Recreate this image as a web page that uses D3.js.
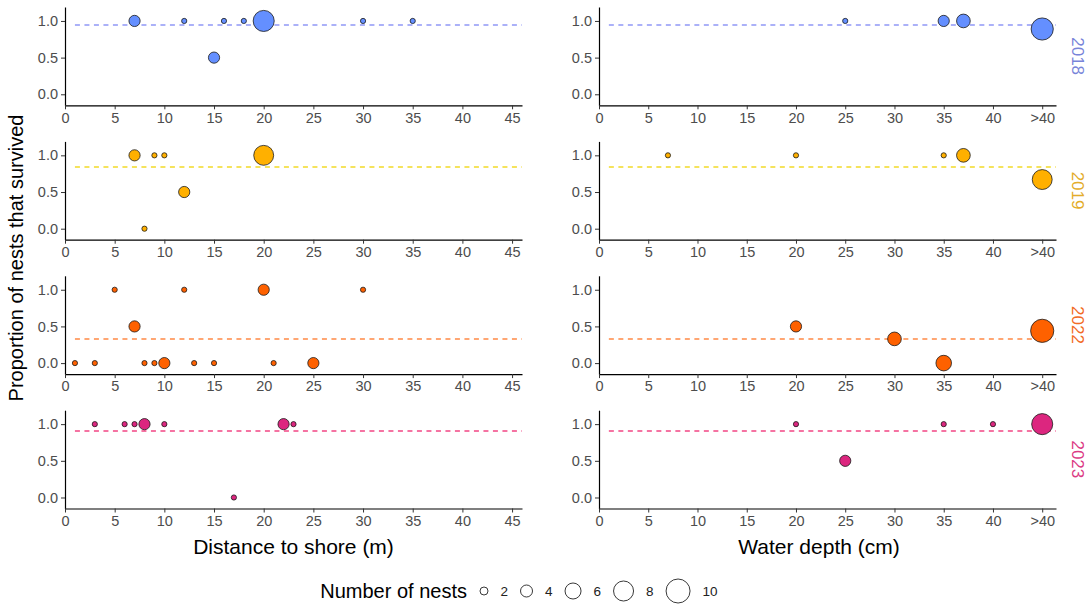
<!DOCTYPE html>
<html><head><meta charset="utf-8">
<script src="https://cdn.jsdelivr.net/npm/d3@7"></script>
<style>
body{margin:0;background:#fff}
svg{display:block}
text{font-family:"Liberation Sans",Arial,Helvetica,sans-serif}
</style>
</head><body>
<svg id="chart" width="1086" height="604"></svg>
<script>
const years = ["2018", "2019", "2022", "2023"];
const pointColors = ["#648FFF", "#FFB000", "#FE6100", "#DC267F"];
const lineColors = ["#7C86F4", "#F0D400", "#FF7424", "#F0246E"];
const stripColors = ["#7884D9", "#E3AC2A", "#F26A24", "#DB3A84"];
const meanSurvival = [0.94, 0.84, 0.33, 0.90];

// each entry: [position, proportion survived, number of nests]
const dist2018 = [[7,1,2],[12,1,1],[15,0.5,2],[16,1,1],[18,1,1],[20,1,8],[30,1,1],[35,1,1]];
const dist2019 = [[7,1,2],[8,0,1],[9,1,1],[10,1,1],[12,0.5,2],[20,1,7]];
const dist2022 = [[1,0,1],[3,0,1],[5,1,1],[7,0.5,2],[8,0,1],[9,0,1],[10,0,2],[12,1,1],[13,0,1],[15,0,1],[20,1,2],[21,0,1],[25,0,2],[30,1,1]];
const dist2023 = [[3,1,1],[6,1,1],[7,1,1],[8,1,2],[10,1,1],[17,0,1],[22,1,2],[23,1,1]];

// water depth; 45 stands for ">40"
const depth2018 = [[25,1,1],[35,1,2],[37,1,3],[45,0.89,9]];
const depth2019 = [[7,1,1],[20,1,1],[35,1,1],[37,1,3],[45,0.67,7]];
const depth2022 = [[20,0.5,2],[30,0.33,3],[35,0,4],[45,0.44,10]];
const depth2023 = [[20,1,1],[25,0.5,2],[35,1,1],[40,1,1],[45,1,8]];

const distData = [dist2018, dist2019, dist2022, dist2023];
const depthData = [depth2018, depth2019, depth2022, depth2023];

const distTicks = [0,5,10,15,20,25,30,35,40,45];
const depthTicks = [0,5,10,15,20,25,30,35,40,45];
const depthTickLabels = ["0","5","10","15","20","25","30","35","40",">40"];
const yTicks = [0, 0.5, 1];
const legendSizes = [2, 4, 6, 8, 10];

const svg = d3.select("#chart");
svg.append("rect").attr("width",1086).attr("height",604).attr("fill","#fff");

const rowTop0 = 7, rowStep = 134.4, panelH = 98.3;
const cols = [
  {x0: 65, x1: 522, domain: [0, 46], ticks: distTicks, labels: distTicks.map(String), data: distData},
  {x0: 599, x1: 1056, domain: [0, 46.4], ticks: depthTicks, labels: depthTickLabels, data: depthData}
];

const rScale = d3.scaleSqrt().domain([0, 9]).range([3, 12]);

years.forEach((yr, i) => {
  const top = rowTop0 + i * rowStep;
  const bottom = top + panelH;
  const y = d3.scaleLinear().domain([-0.15, 1.19]).range([bottom, top]);

  cols.forEach((c, ci) => {
    const x = d3.scaleLinear().domain(c.domain).range([c.x0, c.x1]);
    const g = svg.append("g");

    // mean line (straddles two pixel rows so its colour stays visible)
    const ym = Math.round(y(meanSurvival[i]));
    g.append("line")
      .attr("x1", x(1)).attr("x2", x(c.domain[1]))
      .attr("y1", ym).attr("y2", ym)
      .attr("stroke", lineColors[i]).attr("stroke-width", 1.6)
      .attr("stroke-opacity", 0.85)
      .attr("stroke-dasharray", "5,4.5");

    // points
    const pts = c.data[i].slice().sort((a, b) => b[2] - a[2]);
    g.selectAll("circle.pt").data(pts).enter().append("circle")
      .attr("class", "pt")
      .attr("cx", d => x(d[0]))
      .attr("cy", d => y(d[1]))
      .attr("r", d => rScale(d[2] - 1) - 0.4)
      .attr("fill", pointColors[i])
      .attr("stroke", "#1a1a1a").attr("stroke-width", 0.8);

    // axes
    const ya = g.append("g").attr("transform", `translate(${c.x0},0)`)
      .call(d3.axisLeft(y).tickValues(yTicks).tickFormat(d3.format(".1f"))
        .tickSize(4).tickSizeOuter(0).tickPadding(3));
    const xa = g.append("g").attr("transform", `translate(0,${bottom})`)
      .call(d3.axisBottom(x).tickValues(c.ticks).tickFormat((d, k) => c.labels[k])
        .tickSize(4).tickSizeOuter(0).tickPadding(3));
    [ya, xa].forEach(a => {
      a.select(".domain").attr("stroke", "#000").attr("stroke-width", 1.2);
      a.selectAll(".tick line").attr("stroke", "#333").attr("stroke-width", 1);
      a.selectAll(".tick text").attr("fill", "#4d4d4d").style("font-size", "14.5px")
        .style("font-family", '"Liberation Sans",Arial,sans-serif');
    });
  });

  // strip label
  svg.append("text")
    .attr("transform", `translate(1077.5,${(top + bottom) / 2}) rotate(90)`)
    .attr("text-anchor", "middle").attr("dominant-baseline", "central")
    .attr("fill", stripColors[i]).style("font-size", "17px")
    .text(yr);
});

// axis titles
svg.append("text").attr("x", 293.5).attr("y", 554).attr("text-anchor", "middle")
  .style("font-size", "21px").attr("fill", "#000").text("Distance to shore (m)");
svg.append("text").attr("x", 819).attr("y", 554).attr("text-anchor", "middle")
  .style("font-size", "21px").attr("fill", "#000").text("Water depth (cm)");
svg.append("text").attr("transform", "translate(23,258) rotate(-90)")
  .attr("text-anchor", "middle")
  .style("font-size", "20px").attr("fill", "#000").text("Proportion of nests that survived");

// legend
const legY = 591;
svg.append("text").attr("x", 467).attr("y", legY).attr("text-anchor", "end")
  .attr("dominant-baseline", "central").style("font-size", "20px").attr("fill", "#000")
  .text("Number of nests");
const legR = d3.scaleLinear().domain([2, 10]).range([4, 12]);
let cursor = 476;
legendSizes.forEach(n => {
  const r = legR(n);
  const box = 2 * r + 8;
  svg.append("circle").attr("cx", cursor + box / 2).attr("cy", legY).attr("r", r)
    .attr("fill", "none").attr("stroke", "#222").attr("stroke-width", 0.9);
  const t = svg.append("text").attr("x", cursor + box + 8.5).attr("y", legY)
    .attr("dominant-baseline", "central").style("font-size", "13.5px").attr("fill", "#222")
    .text(String(n));
  const w = t.node().getComputedTextLength();
  cursor = cursor + box + 8.5 + w + 8.5;
});
</script>
</body></html>
